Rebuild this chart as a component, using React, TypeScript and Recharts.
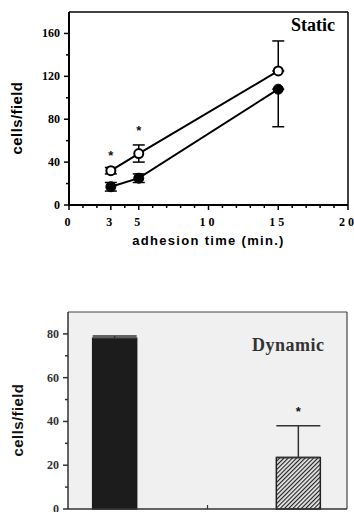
import {
  ComposedChart,
  Line,
  Bar,
  Cell,
  Scatter,
  XAxis,
  YAxis,
  ErrorBar,
  ReferenceLine,
  CartesianGrid,
} from "recharts";

// static adhesion (top panel)
const TIMES = [3, 5, 15];
const OPEN_VALUES = [32, 48, 125];
const OPEN_ERR_LOW = [3, 8, 0];
const OPEN_ERR_HIGH = [3, 8, 28];
const FILLED_VALUES = [17, 25, 108];
const FILLED_ERR_LOW = [4, 4, 35];
const FILLED_ERR_HIGH = [4, 4, 0];
const STATIC_STARS_X = [3, 5];
const STATIC_STARS_Y = [47, 70];
const X_TICKS = Array.from({ length: 21 }, (_, i) => i);
const X_LABELED = [0, 3, 5, 10, 15, 20];
const Y_TICKS_TOP = [0, 20, 40, 60, 80, 100, 120, 140, 160];

// dynamic adhesion (bottom panel)
const BAR_POS = [1, 4.95];
const BAR_VALUES = [78, 23.5];
const BAR_ERR_UP = [1, 14.5];
const DYN_STAR_X = [4.95];
const DYN_STAR_Y = [45];
const Y_TICKS_BOTTOM = [0, 10, 20, 30, 40, 50, 60, 70, 80];

const SERIF = "'Liberation Serif', 'DejaVu Serif', serif";
const SANS = "'Liberation Sans', Arial, sans-serif";

const openData = TIMES.map((t, i) => ({ t, v: OPEN_VALUES[i], err: [OPEN_ERR_LOW[i], OPEN_ERR_HIGH[i]] }));
const filledData = TIMES.map((t, i) => ({ t, v: FILLED_VALUES[i], err: [FILLED_ERR_LOW[i], FILLED_ERR_HIGH[i]] }));
const staticStars = STATIC_STARS_X.map((t, i) => ({ t, v: STATIC_STARS_Y[i] }));
const barData = BAR_POS.map((p, i) => ({ p, v: BAR_VALUES[i], err: [0, BAR_ERR_UP[i]] }));
const dynStars = DYN_STAR_X.map((p, i) => ({ p, v: DYN_STAR_Y[i] }));

const Star = (props: any) => (
  <text x={props.cx} y={props.cy + 5} textAnchor="middle" fontSize={13} fontWeight="bold" fontFamily={SANS} fill="#111">
    *
  </text>
);

function makeYTick(major: (v: number) => boolean, color: string) {
  return (props: any) => {
    const { x, y, payload } = props;
    const isMajor = major(payload.value);
    const len = isMajor ? 5 : 3;
    return (
      <g>
        <line x1={x} x2={x - len} y1={y} y2={y} stroke={color} strokeWidth={1.5} />
        {isMajor && (
          <text x={x - 9} y={y + 4} textAnchor="end" fontSize={12} fontWeight="bold" fontFamily={SERIF} fill={color}>
            {payload.value}
          </text>
        )}
      </g>
    );
  };
}

const TopXTick = (props: any) => {
  const { x, y, payload } = props;
  const isMajor = X_LABELED.includes(payload.value);
  return (
    <g>
      <line x1={x} x2={x} y1={y} y2={y + (isMajor ? 5 : 3)} stroke="#000" strokeWidth={1.5} />
      {isMajor && (
        <text x={x} y={y + 21} textAnchor="middle" fontSize={12} fontWeight="bold" fontFamily={SERIF} letterSpacing={3} fill="#000">
          {payload.value}
        </text>
      )}
    </g>
  );
};

const BottomXTick = (props: any) => {
  const { x, y } = props;
  return <line x1={x} x2={x} y1={y} y2={y - 4} stroke="#333" strokeWidth={1.2} />;
};

const TopYLabel = () => (
  <text x={22} y={118} transform="rotate(-90 22 118)" textAnchor="middle" fontSize={15} fontWeight="bold" fontFamily={SANS} letterSpacing={0.4} fill="#000">
    cells/field
  </text>
);

const BottomYLabel = () => (
  <text x={23} y={120} transform="rotate(-90 23 120)" textAnchor="middle" fontSize={15} fontWeight="bold" fontFamily={SANS} letterSpacing={0.4} fill="#111">
    cells/field
  </text>
);

export default function App() {
  return (
    <div style={{ position: "absolute", left: 0, top: 0, width: 354, height: 512, overflow: "hidden", background: "#fff" }}>
      {/* Static */}
      <div style={{ position: "absolute", left: 0, top: 0 }}>
        <ComposedChart width={354} height={250} margin={{ top: 12, right: 6, bottom: 15, left: 0 }}>
          <XAxis
            dataKey="t"
            type="number"
            domain={[0, 20]}
            ticks={X_TICKS}
            interval={0}
            height={30}
            tickSize={0}
            tickMargin={0}
            tickLine={false}
            tick={<TopXTick />}
            axisLine={{ stroke: "#000", strokeWidth: 2 }}
            allowDataOverflow
            label={{
              value: "adhesion time (min.)",
              position: "insideBottom",
              offset: -10,
              style: { fontSize: 13, fontWeight: "bold", fontFamily: SANS, letterSpacing: 1.3, fill: "#000" },
            }}
          />
          <YAxis
            dataKey="v"
            type="number"
            domain={[0, 180]}
            ticks={Y_TICKS_TOP}
            interval={0}
            width={69}
            tickSize={0}
            tickMargin={0}
            tickLine={false}
            tick={makeYTick((v) => v % 40 === 0, "#000")}
            axisLine={{ stroke: "#000", strokeWidth: 2 }}
            label={<TopYLabel />}
          />
          <ReferenceLine y={180} stroke="#000" strokeWidth={1.5} />
          <ReferenceLine x={20} stroke="#000" strokeWidth={1.5} />
          <Line
            data={filledData}
            dataKey="v"
            stroke="#000"
            strokeWidth={2}
            dot={{ r: 5, fill: "#000", stroke: "#000", strokeWidth: 1 }}
            isAnimationActive={false}
          >
            <ErrorBar dataKey="err" width={6} stroke="#000" strokeWidth={1.5} direction="y" />
          </Line>
          <Line
            data={openData}
            dataKey="v"
            stroke="#000"
            strokeWidth={2}
            dot={{ r: 4.5, fill: "#fff", stroke: "#000", strokeWidth: 2 }}
            isAnimationActive={false}
          >
            <ErrorBar dataKey="err" width={6} stroke="#000" strokeWidth={1.5} direction="y" />
          </Line>
          <Scatter data={staticStars} dataKey="v" shape={<Star />} isAnimationActive={false} />
        </ComposedChart>
      </div>
      <div
        style={{
          position: "absolute",
          left: 291,
          top: 15,
          fontFamily: SERIF,
          fontWeight: "bold",
          fontSize: 18,
          color: "#000",
        }}
      >
        Static
      </div>

      {/* Dynamic */}
      <div style={{ position: "absolute", left: 0, top: 300 }}>
        <ComposedChart data={barData} width={354} height={228} margin={{ top: 12, right: 7, bottom: 0, left: 0 }}>
          <defs>
            <pattern id="hatch" width="3" height="3" patternUnits="userSpaceOnUse" patternTransform="rotate(45)">
              <rect width="3" height="3" fill="#e4e4e4" />
              <line x1="0" y1="0" x2="0" y2="3" stroke="#1e1e1e" strokeWidth="2.2" />
            </pattern>
          </defs>
          <CartesianGrid horizontal={false} vertical={false} fill="#f0f0f0" />
          <XAxis
            dataKey="p"
            type="number"
            domain={[0, 6]}
            ticks={[3]}
            height={19}
            tickSize={0}
            tickMargin={0}
            tickLine={false}
            tick={<BottomXTick />}
            axisLine={{ stroke: "#333", strokeWidth: 1.5 }}
          />
          <YAxis
            dataKey="v"
            type="number"
            domain={[0, 90]}
            ticks={Y_TICKS_BOTTOM}
            interval={0}
            width={68}
            tickSize={0}
            tickMargin={0}
            tickLine={false}
            tick={makeYTick((v) => v % 20 === 0, "#333")}
            axisLine={{ stroke: "#333", strokeWidth: 1.5 }}
            label={<BottomYLabel />}
          />
          <ReferenceLine y={90} stroke="#444" strokeWidth={1.2} />
          <ReferenceLine x={6} stroke="#444" strokeWidth={1.2} />
          <Bar dataKey="v" barSize={44} isAnimationActive={false}>
            {barData.map((d, i) => (
              <Cell
                key={d.p}
                fill={i === 0 ? "#1c1c1c" : "url(#hatch)"}
                stroke={i === 0 ? "#1c1c1c" : "#222"}
                strokeWidth={1.5}
              />
            ))}
            <ErrorBar dataKey="err" width={22} stroke="#333" strokeWidth={1.5} direction="y" />
          </Bar>
          <Scatter data={dynStars} dataKey="v" shape={<Star />} isAnimationActive={false} />
        </ComposedChart>
      </div>
      <div
        style={{
          position: "absolute",
          left: 252,
          top: 335,
          fontFamily: SERIF,
          fontWeight: "bold",
          fontSize: 18,
          color: "#333",
          letterSpacing: 0.5,
        }}
      >
        Dynamic
      </div>
    </div>
  );
}
